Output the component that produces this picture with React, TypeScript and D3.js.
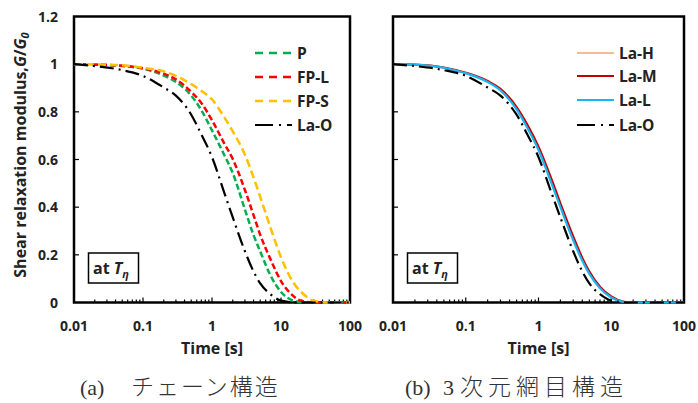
import React from 'react';
import * as d3 from 'd3';

// time axis shared by every curve (s)
const times = [0.01, 0.02, 0.05, 0.1, 0.2, 0.3, 0.5, 0.7, 1, 1.5, 2, 3, 4, 5, 7, 10, 15, 20, 30, 50, 100];

// (a) chain structures, G/G0
const gP = [1.0, 0.998, 0.992, 0.981, 0.952, 0.925, 0.868, 0.807, 0.722, 0.62, 0.543, 0.39, 0.283, 0.214, 0.115, 0.044, 0.008, 0.001, 0, 0, 0];
const gFPL = [1.0, 0.998, 0.993, 0.983, 0.96, 0.936, 0.884, 0.837, 0.765, 0.668, 0.602, 0.472, 0.367, 0.284, 0.183, 0.09, 0.028, 0.006, 0, 0, 0];
const gFPS = [1.0, 0.999, 0.995, 0.985, 0.97, 0.951, 0.916, 0.888, 0.852, 0.778, 0.718, 0.62, 0.525, 0.443, 0.316, 0.19, 0.085, 0.042, 0.007, 0, 0];
const gLaO = [1.0, 0.992, 0.975, 0.951, 0.902, 0.868, 0.788, 0.706, 0.61, 0.462, 0.357, 0.215, 0.13, 0.08, 0.035, 0.008, 0.001, 0, 0, 0, 0];

// (b) 3D network structures, G/G0
const gLaH = [1.0, 0.998, 0.986, 0.963, 0.927, 0.893, 0.815, 0.74, 0.646, 0.51, 0.407, 0.268, 0.18, 0.124, 0.062, 0.023, 0.002, 0, 0, 0, 0];
const gLaM = [1.0, 0.998, 0.986, 0.964, 0.929, 0.896, 0.82, 0.747, 0.654, 0.52, 0.416, 0.277, 0.187, 0.13, 0.066, 0.025, 0.003, 0, 0, 0, 0];
const gLaL = [1.0, 0.998, 0.985, 0.962, 0.925, 0.89, 0.81, 0.733, 0.64, 0.502, 0.4, 0.261, 0.175, 0.12, 0.06, 0.021, 0.002, 0, 0, 0, 0];

const xTicks = [0.01, 0.1, 1, 10, 100];
const xTickLabels = ['0.01', '0.1', '1', '10', '100'];
const yTicks = [0, 0.2, 0.4, 0.6, 0.8, 1, 1.2];
const yTickLabels = ['0', '0.2', '0.4', '0.6', '0.8', '1', '1.2'];

const FONT = '"Open Sans", sans-serif';
const dashOrder = '14,5,2,5';

type Series = { name: string; values: number[]; color: string; width: number; dash?: string };

const leftSeries: Series[] = [
  { name: 'P', values: gP, color: '#00b050', width: 2.5, dash: '6,3' },
  { name: 'FP-L', values: gFPL, color: '#ff0000', width: 2.5, dash: '6,3' },
  { name: 'FP-S', values: gFPS, color: '#ffc000', width: 2.5, dash: '8,4' },
  { name: 'La-O', values: gLaO, color: '#000000', width: 2.2, dash: dashOrder },
];

const rightSeries: Series[] = [
  { name: 'La-H', values: gLaH, color: '#f4a46a', width: 1.5 },
  { name: 'La-M', values: gLaM, color: '#c00000', width: 2.2 },
  { name: 'La-L', values: gLaL, color: '#1cb5f0', width: 2.2 },
  { name: 'La-O', values: gLaO, color: '#000000', width: 2.2, dash: dashOrder },
];

const top = 16.5;
const bottom = 302.5;

const Panel = ({ x0, x1, series, showY, legendX, legendRows, caption }: {
  x0: number; x1: number; series: Series[]; showY: boolean; legendX: number; legendRows: number[];
  caption: React.ReactNode;
}) => {
  const x = d3.scaleLog().domain([0.01, 100]).range([x0, x1]);
  const y = d3.scaleLinear().domain([0, 1.2]).range([bottom, top]);
  const line = d3.line<number>()
    .x((_, i) => x(times[i]))
    .y(d => y(d))
    .curve(d3.curveMonotoneX);

  const minor: number[] = [];
  [0.01, 0.1, 1, 10].forEach(dec => {
    for (let k = 2; k <= 9; k++) minor.push(dec * k);
  });

  return (
    <g>
      {/* y ticks */}
      {yTicks.slice(1, -1).map(t => (
        <line key={'yt' + t} x1={x0} x2={x0 + 5} y1={y(t)} y2={y(t)} stroke="#000" strokeWidth={1.2} />
      ))}
      {showY && yTicks.map((t, i) => (
        <text key={'yl' + t} x={x0 - 16} y={y(t) + 5} textAnchor="end" fontSize={14} fontWeight="bold"
          fontFamily={FONT} fill="#222">{yTickLabels[i]}</text>
      ))}
      {/* x ticks */}
      {minor.map(t => (
        <line key={'mx' + t} x1={x(t)} x2={x(t)} y1={bottom} y2={bottom - 3} stroke="#000" strokeWidth={1.2} />
      ))}
      {xTicks.map(t => (
        <line key={'xt' + t} x1={x(t)} x2={x(t)} y1={bottom} y2={bottom - 5} stroke="#000" strokeWidth={1.2} />
      ))}
      {xTicks.map((t, i) => (
        <text key={'xl' + t} x={x(t)} y={331} textAnchor="middle" fontSize={14} fontWeight="bold"
          fontFamily={FONT} fill="#222">{xTickLabels[i]}</text>
      ))}
      <text x={(x0 + x1) / 2} y={354} textAnchor="middle" fontSize={16} fontWeight="bold" fontFamily={FONT}
        fill="#222">Time [s]</text>
      {/* frame */}
      <rect x={x0} y={top} width={x1 - x0} height={bottom - top} fill="none" stroke="#000" strokeWidth={2.5} />
      {/* curves */}
      {series.map(s => (
        <path key={s.name} d={line(s.values) || ''} fill="none" stroke={s.color} strokeWidth={s.width}
          strokeDasharray={s.dash} />
      ))}
      {/* legend */}
      {series.map((s, i) => (
        <g key={'lg' + s.name}>
          <line x1={legendX} x2={legendX + 37} y1={legendRows[i]} y2={legendRows[i]} stroke={s.color}
            strokeWidth={s.width} strokeDasharray={s.dash ? (s.dash === dashOrder ? '18,6,2,6' : '8,6') : undefined} />
          <text x={legendX + 42} y={legendRows[i] + 6} fontSize={15.5} fontWeight="bold" fontFamily={FONT}
            fill="#222">{s.name}</text>
        </g>
      ))}
      {/* at T_eta box */}
      <rect x={x0 + 14.5} y={253} width={50} height={30} fill="#fff" stroke="#000" strokeWidth={1.5} />
      <text x={x0 + 19} y={274} fontSize={16} fontWeight="bold" fontFamily={FONT} fill="#222">
        at <tspan fontStyle="italic">T</tspan>
        <tspan fontStyle="italic" fontSize={11} dy={4}>η</tspan>
      </text>
      {caption}
    </g>
  );
};

const JP = '"Noto Sans CJK JP", sans-serif';
const SERIF = '"Liberation Serif", serif';

const App = () => {
  return (
    <svg width={698} height={403} style={{ position: 'absolute', left: 0, top: 0, background: '#fff' }}>
      <rect x={0} y={0} width={698} height={403} fill="#fff" />
      {/* y axis title */}
      <text transform="translate(26,155) rotate(-90)" textAnchor="middle" fontSize={16} fontWeight="bold"
        fontFamily={FONT} fill="#222">
        Shear relaxation modulus,<tspan fontStyle="italic">G</tspan>/<tspan fontStyle="italic">G</tspan>
        <tspan fontStyle="italic" fontSize={11} dy={3}>0</tspan>
      </text>
      <Panel x0={74} x1={350} series={leftSeries} showY legendX={255} legendRows={[53, 77, 101, 125]}
        caption={
          <g fill="#333">
            <text x={80} y={395} fontSize={22} fontFamily={SERIF}>(a)</text>
            <text x={131} y={395} fontSize={23} fontFamily={JP} fontWeight={300} letterSpacing={2}>チェーン構造</text>
          </g>
        } />
      <Panel x0={393} x1={684} series={rightSeries} showY={false} legendX={577} legendRows={[53, 76, 100, 125]}
        caption={
          <g fill="#333">
            <text x={405} y={395} fontSize={22} fontFamily={SERIF}>(b)</text>
            <text x={443} y={395} fontSize={22} fontFamily={SERIF}>3</text>
            <text x={460} y={395} fontSize={23} fontFamily={JP} fontWeight={300} letterSpacing={5}>次元網目構造</text>
          </g>
        } />
    </svg>
  );
};

export default App;
